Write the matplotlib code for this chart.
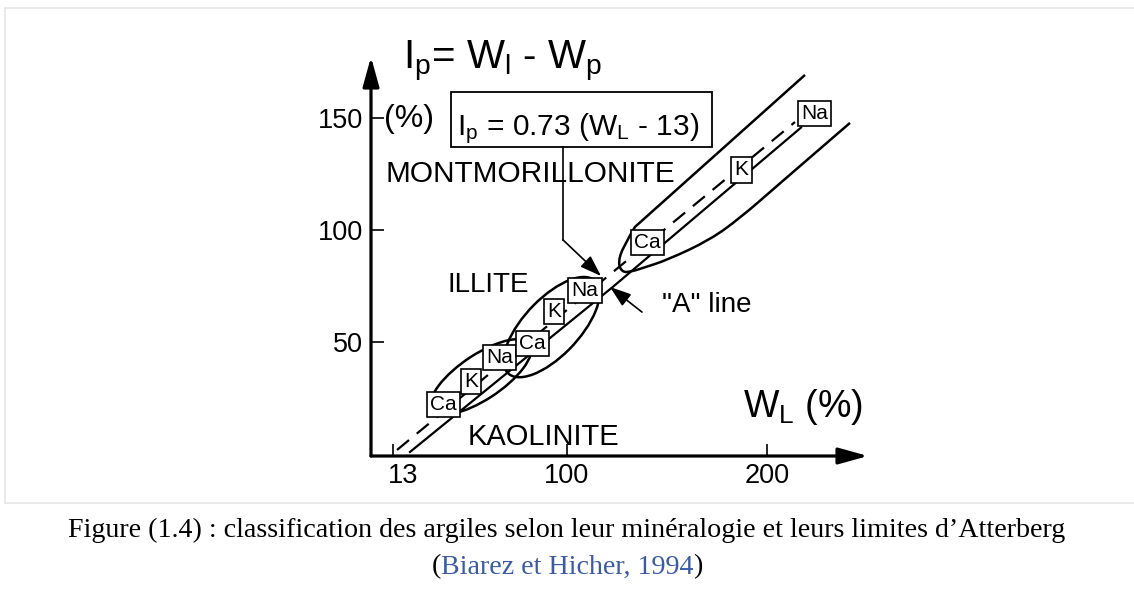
import matplotlib
matplotlib.use('Agg')
import matplotlib.pyplot as plt
from matplotlib.patches import Ellipse, Rectangle, PathPatch
from matplotlib.path import Path
from matplotlib.lines import Line2D
import matplotlib.transforms as mtransforms
from matplotlib.offsetbox import TextArea, HPacker, AnchoredOffsetbox

plt.rcParams['font.family'] = ['Liberation Sans', 'DejaVu Sans']
plt.rcParams['mathtext.default'] = 'regular'

# ---------------- data ----------------
x_ticks = [13, 100, 200]
x_tick_labels = ['13', '100', '200']
y_ticks = [50, 100, 150]
y_tick_labels = ['50', '100', '150']

# dashed and solid "A" lines
dashed_wl = [15, 214]
dashed_ip = [1.7, 148]
solid_wl = [21.5, 123, 217]
solid_ip = [0.8, 74.5, 145.5]

# cation labels placed along the lines
cation_labels = ['Ca', 'K', 'Na', 'Ca', 'K', 'Na', 'Ca', 'K', 'Na']
cation_wl = [38.3, 52.0, 66.3, 82.8, 93.5, 109.0, 140.3, 187.3, 223.8]
cation_ip = [22.0, 32.2, 42.9, 49.2, 63.5, 72.8, 94.2, 126.6, 151.8]

# closed domains: centre WL, centre Ip, length, width, angle
kaolinite_domain = (57.0, 34.3, 57.0, 20.5, 30.0)
illite_domain = (92.3, 56.5, 60.0, 26.5, 42.0)

# open montmorillonite domain (points along its outline)
montmorillonite_wl = [219.0, 134.0, 128.0, 125.5, 127.5, 131.5, 138.0, 150.0,
                      171.5, 187.0, 205.0, 241.5]
montmorillonite_ip = [169.0, 101.2, 92.3, 85.2, 81.1, 81.1, 82.9, 86.4,
                      95.4, 105.5, 119.5, 147.6]

# annotation leader from the formula box
leader_wl = [98.0, 98.0, 117.0]
leader_ip = [136.8, 95.4, 79.3]
aline_arrow_wl = [137.5, 121.5]
aline_arrow_ip = [63.2, 74.4]

formula_box = (42.0, 136.8, 130.5, 24.6)

# ---------------- figure ----------------
W, H = 1134, 592
fig = plt.figure(figsize=(W / 100, H / 100), dpi=100)
fig.patch.set_facecolor('white')

ax = fig.add_axes([371 / W, 136 / H, 497 / W, 399 / H])
ax.set_xlim(2, 250.5)
ax.set_ylim(-1, 177)
for s in ax.spines.values():
    s.set_visible(False)
ax.patch.set_alpha(0)

# axes with arrows
arrow_kw = dict(arrowstyle='-|>,head_length=1.8,head_width=0.5', lw=2.3,
                color='black', shrinkA=0, shrinkB=0)
ax.annotate('', xy=(1, 0), xytext=(0, 0), xycoords='axes fraction',
            textcoords='axes fraction', arrowprops=arrow_kw)
ax.annotate('', xy=(0, 1), xytext=(0, 0), xycoords='axes fraction',
            textcoords='axes fraction', arrowprops=arrow_kw)

ax.set_xticks(x_ticks)
ax.set_xticklabels(x_tick_labels)
ax.set_yticks(y_ticks)
ax.set_yticklabels(y_tick_labels)
ax.tick_params(direction='in', length=9, width=1.2, labelsize=19.5, pad=5,
               colors='black')
ax.tick_params(axis='y', pad=6)
# the "13" label sits slightly right of its tick
lab13 = ax.get_xticklabels()[0]
lab13.set_transform(lab13.get_transform() +
                    mtransforms.ScaledTranslation(10 / 100, 0, fig.dpi_scale_trans))

# lines
ax.plot(dashed_wl, dashed_ip, color='black', lw=1.6, ls=(0, (7, 4.5)),
        solid_capstyle='butt')
ax.plot(solid_wl, solid_ip, color='black', lw=1.6)

# closed domains
for cx, cy, w, h, ang in (kaolinite_domain, illite_domain):
    ax.add_patch(Ellipse((cx, cy), w, h, angle=ang, fill=False, lw=1.8,
                         ec='black'))

# montmorillonite outline: smooth quadratic B-spline through midpoints
pts = list(zip(montmorillonite_wl, montmorillonite_ip))
verts = [pts[0], pts[1]]
codes = [Path.MOVETO, Path.LINETO]
for i in range(1, len(pts) - 2):
    mid = ((pts[i + 1][0] + pts[i + 2][0]) / 2, (pts[i + 1][1] + pts[i + 2][1]) / 2)
    verts += [pts[i + 1], mid]
    codes += [Path.CURVE3, Path.CURVE3]
verts += [pts[-1]]
codes += [Path.LINETO]
ax.add_patch(PathPatch(Path(verts, codes), fill=False, lw=1.8, ec='black'))

# cation boxes
for lab, xv, yv in zip(cation_labels, cation_wl, cation_ip):
    ax.text(xv, yv, lab, ha='center', va='center', fontsize=15, zorder=5,
            bbox=dict(boxstyle='square,pad=0.15', fc='white', ec='black', lw=1.2))

# formula box + leader
bx, by, bw, bh = formula_box
ax.add_patch(Rectangle((bx, by), bw, bh, fill=False, lw=1.3, ec='black',
                       clip_on=False))
ax.text(bx + 3, by + 5.2, 'I$_p$ = 0.73 (W$_L$ - 13)', fontsize=21.5,
        ha='left', va='baseline')
ax.plot(leader_wl[:2], leader_ip[:2], color='black', lw=1.2, clip_on=False)
small_arrow = dict(arrowstyle='-|>,head_length=1.3,head_width=0.45', lw=1.2,
                   color='black', shrinkA=0, shrinkB=0)
ax.annotate('', xy=(leader_wl[2], leader_ip[2]),
            xytext=(leader_wl[1], leader_ip[1]), arrowprops=small_arrow)
ax.annotate('', xy=(aline_arrow_wl[1], aline_arrow_ip[1]),
            xytext=(aline_arrow_wl[0], aline_arrow_ip[0]), arrowprops=small_arrow)

# texts
ax.text(18, 172.1, 'I$_p$= W$_l$ - W$_p$', fontsize=29, ha='left',
        va='baseline', clip_on=False)
ax.text(8.5, 145.7, '(%)', fontsize=23, ha='left', va='baseline')
ax.text(9, 121.2, 'MONTMORILLONITE', fontsize=21.4, ha='left', va='baseline')
ax.text(40, 72.2, 'ILLITE', fontsize=20, ha='left', va='baseline')
ax.text(147.5, 63.2, '"A" line', fontsize=20, ha='left', va='baseline')
ax.text(50.5, 3.9, 'KAOLINITE', fontsize=21, ha='left', va='baseline')
ax.text(188, 16.4, 'W$_L$ (%)', fontsize=27, ha='left', va='baseline')

# ---------------- page decoration and caption ----------------
gray = '#e6e6e6'
fig.add_artist(Line2D([5 / W, 1], [1 - 8 / H, 1 - 8 / H], color=gray, lw=1.2))
fig.add_artist(Line2D([5 / W, 5 / W], [1 - 8 / H, 1 - 503 / H], color=gray, lw=1.2))
fig.add_artist(Line2D([5 / W, 1], [1 - 503 / H, 1 - 503 / H], color=gray, lw=1.2))

cap_font = ['Liberation Serif', 'DejaVu Serif']
cap_size = 20.2
fig.text(0.5, 1 - 530 / H,
         'Figure (1.4) : classification des argiles selon leur minéralogie et leurs limites d\u2019Atterberg',
         ha='center', va='center', fontsize=cap_size, family=cap_font, color='black')
parts = [TextArea('(', textprops=dict(fontsize=cap_size, family=cap_font, color='black')),
         TextArea('Biarez et Hicher, 1994', textprops=dict(fontsize=cap_size, family=cap_font, color='#3b5ba5')),
         TextArea(')', textprops=dict(fontsize=cap_size, family=cap_font, color='black'))]
pack = HPacker(children=parts, align='baseline', pad=0, sep=0)
anch = AnchoredOffsetbox(loc='center', child=pack, pad=0, frameon=False,
                         bbox_to_anchor=(0.5, 1 - 567 / H),
                         bbox_transform=fig.transFigure, borderpad=0)
fig.add_artist(anch)

fig.savefig('out.png', dpi=100, facecolor='white')
